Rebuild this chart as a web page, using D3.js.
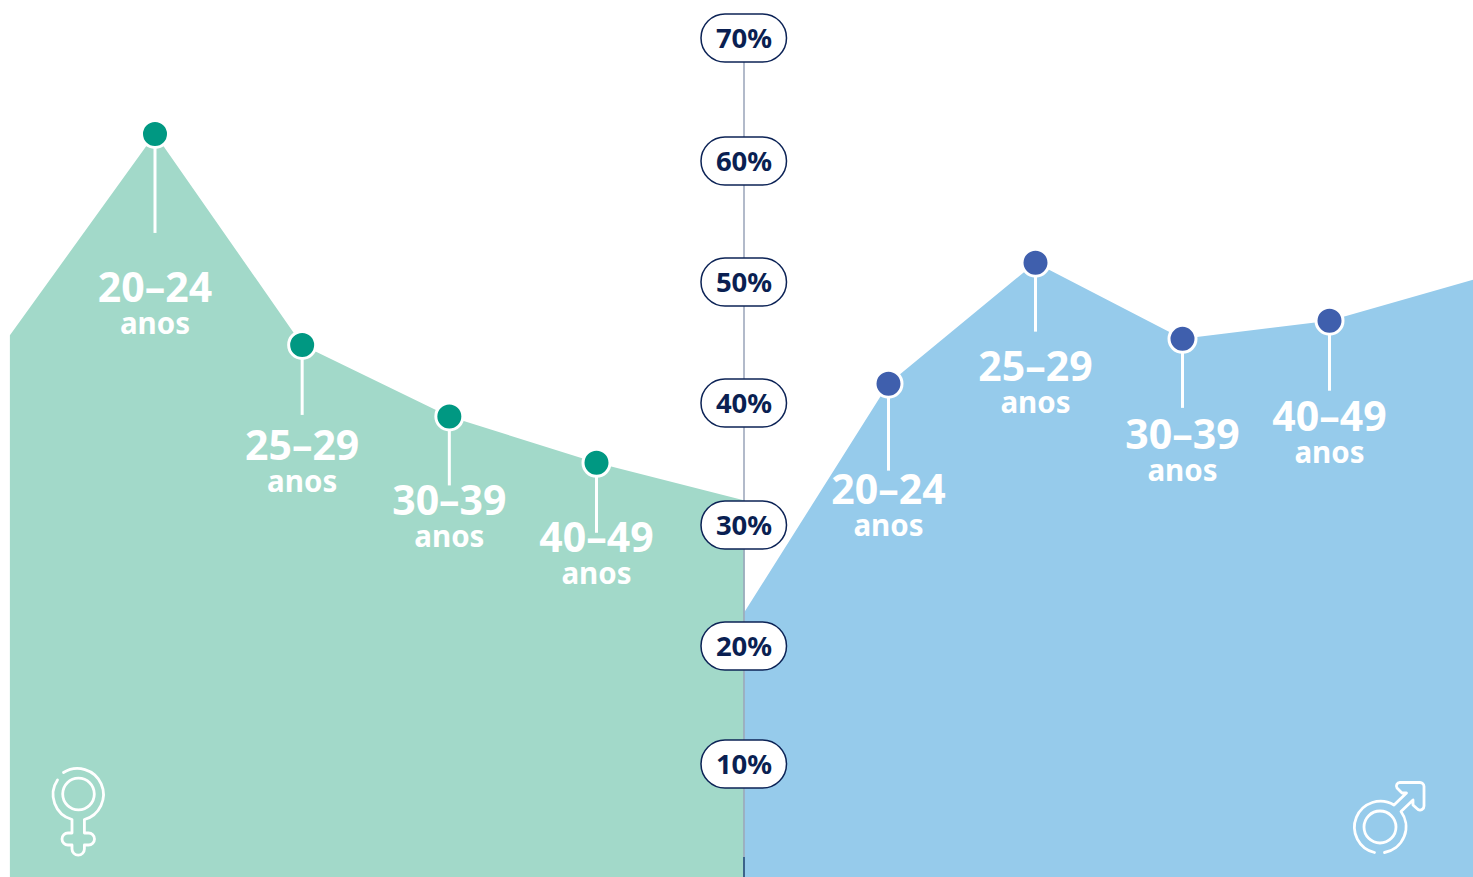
<!DOCTYPE html>
<html>
<head>
<meta charset="utf-8">
<script src="https://cdnjs.cloudflare.com/ajax/libs/d3/7.8.5/d3.min.js"></script>
<style>
  html, body { margin: 0; padding: 0; background: #fff; overflow: hidden; }
  text { font-family: "Noto Sans", sans-serif; }
</style>
</head>
<body>
<div id="my_dataviz"></div>
<script>

// data
var ageGroups = ["20–24", "25–29", "30–39", "40–49"];
var ageUnit = "anos";
var axisTicks = [10, 20, 30, 40, 50, 60, 70];

// position along the age axis, the first and last ones are the edges of the area
var femalePositions = [-0.986, 0, 1, 2, 3, 4.007];
var femaleValues = [45.6, 62.2, 44.8, 38.9, 35.1, 32.0];
var malePositions = [-0.98, 0, 1, 2, 3, 3.98];
var maleValues = [22.8, 41.6, 51.6, 45.3, 46.8, 50.2];

// layout of the callouts, one entry per age group
var femaleStems = [99, 70, 69, 70];
var femaleLabelDrops = [168, 115, 99, 89];
var maleStems = [87, 69, 69, 70];
var maleLabelDrops = [120, 118, 110, 110];

var width = 1473, height = 877, centerX = 744;

var svg = d3.select("#my_dataviz").append("svg")
    .attr("width", width)
    .attr("height", height)
    .style("display", "block");

// the printed ticks are not quite evenly spaced
var y = d3.scaleLinear()
    .domain(axisTicks)
    .range([764, 646, 525, 403, 282, 161, 38]);

var xFemale = d3.scaleLinear().domain([0, 3]).range([155, 596.5]);
var xMale = d3.scaleLinear().domain([0, 3]).range([888.5, 1329.5]);

function drawArea(positions, values, x, fill) {
  var pts = positions.map(function(p, i) { return {p: p, v: values[i]}; });
  var area = d3.area()
      .x(function(d) { return x(d.p); })
      .y0(height)
      .y1(function(d) { return y(d.v); });
  svg.append("path")
      .datum(pts)
      .attr("d", area)
      .attr("fill", fill);
}

drawArea(femalePositions, femaleValues, xFemale, "#a2d9c9");
drawArea(malePositions, maleValues, xMale, "#96cbeb");

// center axis
svg.append("line")
    .attr("x1", centerX).attr("x2", centerX)
    .attr("y1", y(70)).attr("y2", height)
    .attr("stroke", "#98a3b8")
    .attr("stroke-width", 1.5);
svg.append("line")
    .attr("x1", centerX).attr("x2", centerX)
    .attr("y1", 857).attr("y2", height)
    .attr("stroke", "#1d4a78")
    .attr("stroke-width", 1.5);

// tick pills
var tick = svg.selectAll(".tick")
    .data(axisTicks)
    .enter().append("g")
    .attr("class", "tick")
    .attr("transform", function(d) { return "translate(" + centerX + "," + y(d) + ")"; });

tick.append("rect")
    .attr("x", -43).attr("y", -24)
    .attr("width", 85.5).attr("height", 48)
    .attr("rx", 24)
    .attr("fill", "#fff")
    .attr("stroke", "#0c2356")
    .attr("stroke-width", 1.5);

tick.append("text")
    .attr("text-anchor", "middle")
    .attr("y", 10)
    .attr("font-size", 27.5)
    .attr("font-weight", 700)
    .attr("fill", "#0a1f52")
    .text(function(d) { return d + "%"; });

function drawCallouts(values, x, dotColor, stems, drops) {
  var g = svg.selectAll(null)
      .data(ageGroups)
      .enter().append("g")
      .attr("transform", function(d, i) {
        return "translate(" + x(i) + "," + y(values[i + 1]) + ")";
      });

  g.append("line")
      .attr("y1", 0)
      .attr("y2", function(d, i) { return stems[i]; })
      .attr("stroke", "#fff")
      .attr("stroke-width", 3);

  g.append("circle")
      .attr("r", 13.5)
      .attr("fill", dotColor)
      .attr("stroke", "#fff")
      .attr("stroke-width", 3);

  g.append("text")
      .attr("text-anchor", "middle")
      .attr("y", function(d, i) { return drops[i]; })
      .attr("font-size", 41)
      .attr("font-weight", 700)
      .attr("fill", "#fff")
      .text(function(d) { return d; });

  g.append("text")
      .attr("text-anchor", "middle")
      .attr("y", function(d, i) { return drops[i] + 32; })
      .attr("font-size", 29.5)
      .attr("font-weight", 700)
      .attr("fill", "#fff")
      .text(ageUnit);
}

drawCallouts(femaleValues, xFemale, "#009882", femaleStems, femaleLabelDrops);
drawCallouts(maleValues, xMale, "#3f5fad", maleStems, maleLabelDrops);

// gender icons
var female = svg.append("g")
    .attr("fill", "none")
    .attr("stroke", "#fff")
    .attr("stroke-width", 2.8)
    .attr("stroke-linecap", "round")
    .attr("stroke-linejoin", "round");
female.append("circle").attr("cx", 78.5).attr("cy", 794).attr("r", 15.8);
female.append("path")
    .attr("d", "M57.5 780 A26 26 0 0 0 72 819.5 V833 H68 A6 6 0 0 0 68 845 H72 V849 A6.2 6.2 0 0 0 84.4 849 V845 H88.5 A6 6 0 0 0 88.5 833 H84.4 V819.5 A26 26 0 1 0 63.5 772.5");

var male = svg.append("g")
    .attr("fill", "none")
    .attr("stroke", "#fff")
    .attr("stroke-width", 2.8)
    .attr("stroke-linecap", "round")
    .attr("stroke-linejoin", "round");
male.append("circle").attr("cx", 1380).attr("cy", 827).attr("r", 16);
male.append("path")
    .attr("d", "M1374.5 852.5 A26 26 0 1 1 1394 805 L1406.5 793 H1402 L1397 788 A3.5 3.5 0 0 1 1400 782.5 H1420 A4 4 0 0 1 1424 786.5 V806 A4 4 0 0 1 1418 809.5 L1413 805 V800 L1401 811.5 A26 26 0 0 1 1384.5 852.5");

</script>
</body>
</html>
